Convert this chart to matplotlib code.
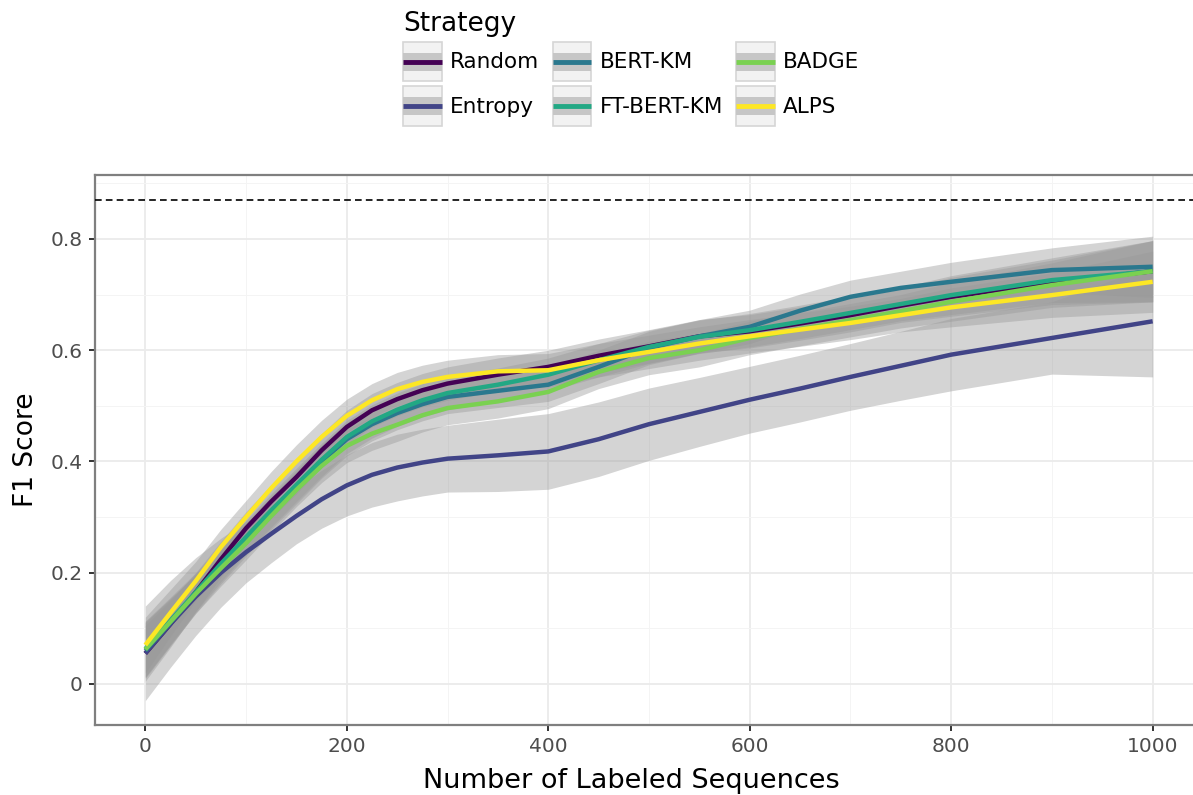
import matplotlib
matplotlib.use("Agg")
import matplotlib.pyplot as plt
import numpy as np
from matplotlib.patches import Rectangle
from matplotlib.lines import Line2D
from matplotlib.ticker import MultipleLocator

# at these numbers of labeled sequences
x = [0, 25, 50, 75, 100, 125, 150, 175, 200, 225, 250, 275, 300, 350, 400,
     450, 500, 550, 600, 650, 700, 750, 800, 900, 1000]

random_f1 = [0.055, 0.108, 0.165, 0.224, 0.280, 0.328, 0.372, 0.420, 0.462, 0.492, 0.512, 0.528, 0.540,
             0.556, 0.570, 0.590, 0.607, 0.625, 0.634, 0.648, 0.663, 0.680, 0.696, 0.722, 0.742]
entropy_f1 = [0.055, 0.108, 0.157, 0.200, 0.237, 0.270, 0.302, 0.332, 0.357, 0.376, 0.389, 0.398, 0.405,
              0.411, 0.418, 0.440, 0.467, 0.489, 0.511, 0.531, 0.552, 0.572, 0.592, 0.622, 0.652]
bertkm_f1 = [0.060, 0.111, 0.162, 0.212, 0.260, 0.308, 0.354, 0.400, 0.440, 0.467, 0.487, 0.503, 0.516,
             0.527, 0.538, 0.570, 0.604, 0.625, 0.642, 0.671, 0.696, 0.712, 0.723, 0.744, 0.750]
ftbertkm_f1 = [0.063, 0.114, 0.165, 0.216, 0.264, 0.312, 0.358, 0.403, 0.444, 0.472, 0.493, 0.510, 0.523,
               0.538, 0.556, 0.582, 0.606, 0.624, 0.636, 0.651, 0.667, 0.683, 0.699, 0.726, 0.742]
badge_f1 = [0.062, 0.112, 0.162, 0.208, 0.253, 0.302, 0.349, 0.392, 0.428, 0.450, 0.466, 0.483, 0.496,
            0.508, 0.525, 0.561, 0.586, 0.600, 0.622, 0.638, 0.654, 0.670, 0.687, 0.717, 0.742]
alps_f1 = [0.070, 0.128, 0.185, 0.246, 0.300, 0.352, 0.400, 0.444, 0.482, 0.510, 0.530, 0.543, 0.552,
           0.562, 0.564, 0.582, 0.597, 0.612, 0.625, 0.637, 0.649, 0.663, 0.677, 0.699, 0.723]

# half width of the grey confidence ribbons
band_hw = [0.05, 0.042, 0.035, 0.032, 0.03, 0.03, 0.03, 0.03, 0.03, 0.03, 0.03, 0.03, 0.03,
           0.03, 0.03, 0.03, 0.03, 0.03, 0.03, 0.03, 0.03, 0.03, 0.035, 0.04, 0.055]
entropy_hw = [0.085, 0.078, 0.07, 0.062, 0.055, 0.052, 0.05, 0.052, 0.055, 0.058, 0.06, 0.06, 0.06,
              0.065, 0.068, 0.067, 0.065, 0.062, 0.06, 0.06, 0.06, 0.062, 0.065, 0.065, 0.10]

full_supervision = 0.87

strategies = ["Random", "Entropy", "BERT-KM", "FT-BERT-KM", "BADGE", "ALPS"]
series = [random_f1, entropy_f1, bertkm_f1, ftbertkm_f1, badge_f1, alps_f1]
widths = [band_hw, entropy_hw, band_hw, band_hw, band_hw, band_hw]
colors = ["#440154", "#414487", "#2A788E", "#22A884", "#7AD151", "#FDE725"]


class RibbonKey:
    # legend key like ggplot: grey box, ribbon stripe, line
    def __init__(self, color):
        self.color = color

    def legend_artist(self, legend, orig_handle, fontsize, handlebox):
        x0, y0 = -handlebox.xdescent, -handlebox.ydescent
        w, h = handlebox.width, handlebox.height
        tr = handlebox.get_transform()
        bg = Rectangle((x0, y0), w, h, facecolor="#f2f2f2", edgecolor="#d6d6d6",
                       linewidth=1.2, transform=tr)
        band = Rectangle((x0, y0 + h * 0.27), w, h * 0.46, facecolor="#c6c6c6",
                         edgecolor="none", transform=tr)
        line = Line2D([x0, x0 + w], [y0 + h / 2, y0 + h / 2], color=self.color,
                      linewidth=3.5, solid_capstyle="butt", transform=tr)
        handlebox.add_artist(bg)
        handlebox.add_artist(band)
        handlebox.add_artist(line)
        return line


fig = plt.figure(figsize=(11.93, 7.95), dpi=100)
ax = fig.add_axes([0.0796, 0.0881, 0.9288, 0.6918])

xs = np.array(x)
for ys, hw in zip(series, widths):
    ys = np.array(ys)
    hw = np.array(hw)
    ax.fill_between(xs, ys - hw, ys + hw, color="#999999", alpha=0.42, linewidth=0, zorder=2)

handles = []
for name, ys, c in zip(strategies, series, colors):
    ln, = ax.plot(x, ys, color=c, linewidth=3.2, label=name, zorder=3,
                  solid_joinstyle="round", solid_capstyle="butt")
    handles.append(ln)

ax.axhline(full_supervision, color="black", linestyle=(0, (4, 2.5)), linewidth=1.2, zorder=4)

ax.set_xlim(-50, 1050)
ax.set_ylim(-0.0737, 0.915)
ax.xaxis.set_major_locator(MultipleLocator(200))
ax.xaxis.set_minor_locator(MultipleLocator(100))
ax.yaxis.set_major_locator(MultipleLocator(0.2))
ax.yaxis.set_minor_locator(MultipleLocator(0.1))
ax.set_yticks([0, 0.2, 0.4, 0.6, 0.8])
ax.set_yticklabels(["0", "0.2", "0.4", "0.6", "0.8"])
ax.grid(which="major", color="#ebebeb", linewidth=1.3, zorder=0)
ax.grid(which="minor", color="#f4f4f4", linewidth=0.7, zorder=0)
ax.set_axisbelow(True)
for s in ax.spines.values():
    s.set_color("#7f7f7f")
    s.set_linewidth(1.6)
ax.tick_params(which="major", length=4, width=1.4, color="#333333", labelsize=14.5,
               labelcolor="#4d4d4d", pad=5)
ax.tick_params(which="minor", length=0)

ax.set_xlabel("Number of Labeled Sequences", fontsize=19.5, labelpad=9)
ax.set_ylabel("F1 Score", fontsize=19, labelpad=8)
# the reference is cropped on the right, so its titles sit left of the panel centre
ax.xaxis.set_label_coords(0.4838, -0.079)

# legend order goes down the columns
leg = fig.legend(handles, strategies, loc="upper left", bbox_to_anchor=(403 / 1193, 1 - 11 / 795),
                 ncol=3, frameon=False, fontsize=15.5, title="Strategy", title_fontsize=19,
                 alignment="left", handlelength=1.8, handleheight=2.42,
                 labelspacing=0.24, columnspacing=0.62, handletextpad=0.38,
                 borderpad=0, borderaxespad=0,
                 handler_map={h: RibbonKey(c) for h, c in zip(handles, colors)})

fig.savefig("out.png", dpi=100)
